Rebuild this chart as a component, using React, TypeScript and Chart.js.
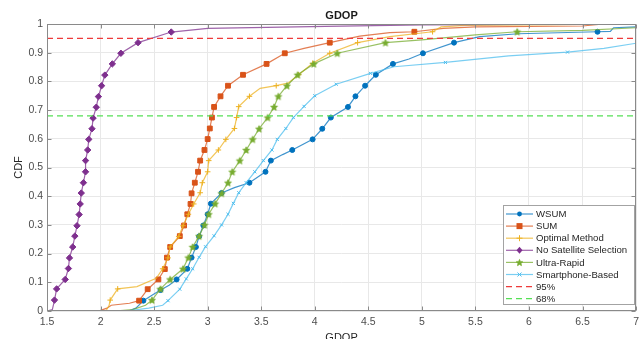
import React, { useEffect, useRef } from 'react';
import { Chart, registerables } from 'chart.js';

Chart.register(...registerables);

// ---------- data ----------
const seriesNames = ['WSUM', 'SUM', 'Optimal Method', 'No Satellite Selection', 'Ultra-Rapid', 'Smartphone-Based'];
const seriesColors = ['#0072BD', '#D95319', '#EDB120', '#7E2F8E', '#77AC30', '#4DBEEE'];
const seriesMarkers = ['circle', 'rect', 'cross', 'rectRot', 'star', 'crossRot'];
const refNames = ['95%', '68%'];
const refLevels = [0.95, 0.68];
const refColors = ['#ee3b3b', '#55e055'];
const xTicks = [1.5, 2, 2.5, 3, 3.5, 4, 4.5, 5, 5.5, 6, 6.5, 7];
const yTicks = [0, 0.1, 0.2, 0.3, 0.4, 0.5, 0.6, 0.7, 0.8, 0.9, 1];

const wsumX = [2.26, 2.33, 2.40, 2.48, 2.56, 2.64, 2.71, 2.81, 2.85, 2.89, 2.92, 2.96, 3.00, 3.03, 3.13, 3.25, 3.39, 3.54, 3.59, 3.70, 3.79, 3.98, 4.07, 4.15, 4.31, 4.38, 4.47, 4.57, 4.73, 4.88, 5.01, 5.30, 5.54, 5.90, 6.64, 6.76, 6.79, 7.00];
const wsumY = [0, 0.01, 0.036, 0.055, 0.073, 0.09, 0.11, 0.147, 0.186, 0.223, 0.26, 0.298, 0.337, 0.374, 0.411, 0.43, 0.447, 0.485, 0.524, 0.545, 0.561, 0.598, 0.635, 0.674, 0.711, 0.748, 0.785, 0.823, 0.861, 0.878, 0.898, 0.935, 0.956, 0.966, 0.973, 0.974, 0.987, 0.99];
const wsumM = [0, 0, 1, 0, 1, 0, 1, 1, 1, 1, 1, 1, 1, 1, 1, 0, 1, 1, 1, 0, 1, 1, 1, 1, 1, 1, 1, 1, 1, 0, 1, 1, 0, 0, 1, 0, 0, 0];

const sumX = [1.67, 2.00, 2.06, 2.10, 2.27, 2.36, 2.44, 2.54, 2.60, 2.62, 2.65, 2.74, 2.78, 2.81, 2.84, 2.85, 2.88, 2.91, 2.93, 2.97, 3.00, 3.02, 3.04, 3.06, 3.12, 3.19, 3.33, 3.55, 3.72, 3.90, 4.14, 4.42, 4.70, 4.93, 5.20, 5.50, 6.50, 6.70, 7.00];
const sumY = [0, 0.002, 0.01, 0.02, 0.027, 0.036, 0.076, 0.11, 0.146, 0.186, 0.223, 0.261, 0.298, 0.337, 0.373, 0.41, 0.447, 0.485, 0.524, 0.561, 0.599, 0.636, 0.674, 0.711, 0.748, 0.785, 0.823, 0.861, 0.898, 0.915, 0.935, 0.958, 0.97, 0.973, 0.985, 0.99, 0.993, 1.0, 1.0];
const sumM = [0, 0, 0, 0, 0, 1, 1, 1, 1, 1, 1, 1, 1, 1, 1, 1, 1, 1, 1, 1, 1, 1, 1, 1, 1, 1, 1, 1, 1, 0, 1, 0, 0, 1, 0, 0, 0, 0, 0];

const optX = [2.05, 2.08, 2.09, 2.16, 2.34, 2.52, 2.58, 2.63, 2.65, 2.73, 2.77, 2.82, 2.87, 2.93, 2.95, 3.00, 3.01, 3.10, 3.17, 3.25, 3.27, 3.29, 3.39, 3.49, 3.64, 3.75, 3.85, 3.98, 4.14, 4.40, 4.70, 5.10, 5.18, 5.40, 7.00];
const optY = [0, 0.02, 0.038, 0.077, 0.085, 0.114, 0.147, 0.185, 0.223, 0.26, 0.297, 0.337, 0.373, 0.412, 0.447, 0.485, 0.524, 0.561, 0.598, 0.636, 0.674, 0.712, 0.748, 0.776, 0.785, 0.794, 0.823, 0.863, 0.898, 0.935, 0.956, 0.973, 0.99, 0.995, 1.0];
const optM = [0, 0, 1, 1, 0, 0, 1, 1, 1, 1, 1, 1, 1, 1, 1, 1, 1, 1, 1, 1, 1, 1, 1, 0, 1, 0, 1, 1, 1, 1, 0, 1, 0, 0, 0];

const noSelX = [1.50, 1.55, 1.57, 1.59, 1.67, 1.70, 1.71, 1.74, 1.76, 1.78, 1.80, 1.81, 1.82, 1.84, 1.86, 1.86, 1.88, 1.89, 1.92, 1.93, 1.96, 1.98, 2.01, 2.04, 2.11, 2.19, 2.35, 2.66, 3.00, 4.10, 5.00, 7.00];
const noSelY = [0, 0.005, 0.038, 0.077, 0.11, 0.148, 0.185, 0.223, 0.261, 0.297, 0.336, 0.373, 0.411, 0.447, 0.485, 0.524, 0.561, 0.598, 0.635, 0.672, 0.71, 0.747, 0.785, 0.822, 0.861, 0.898, 0.935, 0.972, 0.985, 0.992, 0.997, 1.0];
const noSelM = [0, 0, 1, 1, 1, 1, 1, 1, 1, 1, 1, 1, 1, 1, 1, 1, 1, 1, 1, 1, 1, 1, 1, 1, 1, 1, 1, 1, 0, 0, 0, 0];

const ultraX = [2.13, 2.30, 2.42, 2.48, 2.56, 2.65, 2.77, 2.82, 2.86, 2.92, 2.97, 3.01, 3.07, 3.13, 3.19, 3.23, 3.30, 3.36, 3.42, 3.48, 3.56, 3.62, 3.66, 3.74, 3.84, 3.99, 4.21, 4.66, 5.00, 5.50, 5.89, 6.50, 7.00];
const ultraY = [0, 0.005, 0.02, 0.038, 0.077, 0.11, 0.147, 0.186, 0.223, 0.261, 0.30, 0.337, 0.374, 0.41, 0.447, 0.485, 0.524, 0.561, 0.598, 0.635, 0.674, 0.711, 0.748, 0.785, 0.823, 0.861, 0.898, 0.935, 0.945, 0.962, 0.973, 0.978, 0.987];
const ultraM = [0, 0, 0, 1, 1, 1, 1, 1, 1, 1, 1, 1, 1, 1, 1, 1, 1, 1, 1, 1, 1, 1, 1, 1, 1, 1, 1, 1, 0, 0, 1, 0, 0];

const phoneX = [2.24, 2.45, 2.58, 2.63, 2.74, 2.80, 2.86, 2.92, 2.98, 3.06, 3.13, 3.19, 3.24, 3.29, 3.36, 3.44, 3.52, 3.60, 3.65, 3.73, 3.80, 3.90, 4.00, 4.20, 4.52, 4.74, 5.22, 5.81, 6.36, 6.70, 7.00];
const phoneY = [0, 0.01, 0.02, 0.036, 0.076, 0.112, 0.147, 0.187, 0.224, 0.262, 0.30, 0.337, 0.375, 0.412, 0.447, 0.485, 0.524, 0.561, 0.598, 0.636, 0.674, 0.713, 0.75, 0.79, 0.828, 0.851, 0.866, 0.889, 0.902, 0.915, 0.933];
const phoneM = [0, 0, 0, 1, 1, 1, 1, 1, 1, 1, 1, 1, 1, 1, 1, 1, 1, 1, 1, 1, 1, 1, 1, 1, 1, 0, 1, 0, 1, 0, 0];

const seriesX = [wsumX, sumX, optX, noSelX, ultraX, phoneX];
const seriesY = [wsumY, sumY, optY, noSelY, ultraY, phoneY];
const seriesM = [wsumM, sumM, optM, noSelM, ultraM, phoneM];

// ---------- helpers ----------
const FONT = '"Liberation Sans", Arial, Helvetica, sans-serif';
const markerRadius: Record<string, number> = { circle: 2.5, rect: 3.4, cross: 2.8, rectRot: 3.2, star: 3.5, crossRot: 2.2 };

function hexToRgba(hex: string, a: number) {
  const n = parseInt(hex.slice(1), 16);
  return `rgba(${(n >> 16) & 255},${(n >> 8) & 255},${n & 255},${a})`;
}

function makeStar(color: string, R: number) {
  const c = document.createElement('canvas');
  const s = Math.ceil(R * 2 + 2);
  c.width = s; c.height = s;
  const ctx = c.getContext('2d')!;
  const cx = s / 2, cy = s / 2 + 0.4;
  const r = R * 0.45;
  ctx.beginPath();
  for (let i = 0; i < 10; i++) {
    const rad = (i % 2 === 0) ? R : r;
    const a = -Math.PI / 2 + (i * Math.PI) / 5;
    const px = cx + rad * Math.cos(a), py = cy + rad * Math.sin(a);
    if (i === 0) ctx.moveTo(px, py); else ctx.lineTo(px, py);
  }
  ctx.closePath();
  ctx.fillStyle = color; ctx.fill();
  ctx.strokeStyle = color; ctx.lineWidth = 0.8; ctx.stroke();
  return c;
}

function drawLegendMarker(ctx: CanvasRenderingContext2D, kind: string, x: number, y: number, color: string, star: HTMLCanvasElement) {
  ctx.save();
  ctx.fillStyle = color; ctx.strokeStyle = color; ctx.lineWidth = 1;
  ctx.beginPath();
  if (kind === 'circle') { ctx.arc(x, y, 2.4, 0, Math.PI * 2); ctx.fill(); }
  else if (kind === 'rect') { ctx.fillRect(x - 3, y - 3, 6, 6); }
  else if (kind === 'cross') { ctx.moveTo(x - 3, y); ctx.lineTo(x + 3, y); ctx.moveTo(x, y - 3); ctx.lineTo(x, y + 3); ctx.stroke(); }
  else if (kind === 'rectRot') { ctx.moveTo(x, y - 3.5); ctx.lineTo(x + 3, y); ctx.lineTo(x, y + 3.5); ctx.lineTo(x - 3, y); ctx.closePath(); ctx.fill(); }
  else if (kind === 'star') { ctx.drawImage(star, x - star.width / 2, y - star.height / 2); }
  else if (kind === 'crossRot') { ctx.moveTo(x - 2, y - 2); ctx.lineTo(x + 2, y + 2); ctx.moveTo(x + 2, y - 2); ctx.lineTo(x - 2, y + 2); ctx.stroke(); }
  ctx.restore();
}

export default function App() {
  const ref = useRef<HTMLCanvasElement | null>(null);

  useEffect(() => {
    if (!ref.current) return;
    const starImg = makeStar(seriesColors[4], 3.6);
    const legendStar = makeStar(seriesColors[4], 3.4);

    const datasets: any[] = seriesNames.map((name, i) => {
      const xs = seriesX[i], ys = seriesY[i], ms = seriesM[i];
      const kind = seriesMarkers[i];
      const style = kind === 'star' ? starImg : kind;
      return {
        label: name,
        data: xs.map((x, k) => ({ x, y: ys[k] })),
        borderColor: hexToRgba(seriesColors[i], 0.75),
        borderWidth: 1.2,
        pointRadius: ms.map((m) => (m ? markerRadius[kind] : 0)),
        pointStyle: ms.map(() => style),
        pointBackgroundColor: seriesColors[i],
        pointBorderColor: seriesColors[i],
        pointBorderWidth: 1,
        tension: 0,
        fill: false,
        order: -i,
        markerKind: kind,
        baseColor: seriesColors[i],
      };
    });
    refNames.forEach((name, j) => {
      datasets.push({
        label: name,
        data: [{ x: xTicks[0], y: refLevels[j] }, { x: xTicks[xTicks.length - 1], y: refLevels[j] }],
        borderColor: refColors[j],
        borderWidth: 1.2,
        borderDash: [6, 4],
        pointRadius: 0,
        fill: false,
        order: -10 - j,
        markerKind: 'none',
        baseColor: refColors[j],
      });
    });

    const framePlugin = {
      id: 'frame',
      afterDatasetsDraw(chart: any) {
        const { ctx, chartArea: a, scales } = chart;
        ctx.save();
        ctx.strokeStyle = '#8a8a8a';
        ctx.lineWidth = 1;
        const L = Math.round(a.left) + 0.5, R = Math.round(a.right) - 0.5, T = Math.round(a.top) + 0.5, B = Math.round(a.bottom) - 0.5;
        ctx.strokeRect(L, T, R - L, B - T);
        ctx.beginPath();
        xTicks.forEach((v) => {
          const px = Math.round(scales.x.getPixelForValue(v)) + 0.5;
          ctx.moveTo(px, B); ctx.lineTo(px, B - 4);
          ctx.moveTo(px, T); ctx.lineTo(px, T + 4);
        });
        yTicks.forEach((v) => {
          const py = Math.round(scales.y.getPixelForValue(v)) + 0.5;
          ctx.moveTo(L, py); ctx.lineTo(L + 4, py);
          ctx.moveTo(R, py); ctx.lineTo(R - 4, py);
        });
        ctx.stroke();
        ctx.restore();
      },
      afterDraw(chart: any) {
        const { ctx, chartArea: a } = chart;
        ctx.save();
        // title
        ctx.font = `bold 11px ${FONT}`;
        ctx.fillStyle = '#1a1a1a';
        ctx.textAlign = 'center';
        ctx.textBaseline = 'middle';
        ctx.fillText('GDOP', (a.left + a.right) / 2, 15.5);
        // legend
        const bx = 503.5, by = 205.5, bw = 131, bh = 99;
        ctx.fillStyle = '#ffffff';
        ctx.fillRect(bx, by, bw, bh);
        ctx.strokeStyle = '#a3a3a3';
        ctx.lineWidth = 1;
        ctx.strokeRect(bx, by, bw, bh);
        ctx.font = `9.6px ${FONT}`;
        ctx.textAlign = 'left';
        ctx.textBaseline = 'middle';
        chart.data.datasets.forEach((ds: any, i: number) => {
          const y = 214 + i * 12.1;
          ctx.save();
          ctx.strokeStyle = ds.borderColor;
          ctx.lineWidth = 1.2;
          ctx.setLineDash(ds.borderDash || []);
          ctx.beginPath();
          ctx.moveTo(506, y); ctx.lineTo(533, y);
          ctx.stroke();
          ctx.restore();
          if (ds.markerKind !== 'none') drawLegendMarker(ctx, ds.markerKind, 519.5, y, ds.baseColor, legendStar);
          ctx.fillStyle = '#262626';
          ctx.fillText(ds.label, 536, y + 0.5);
        });
        ctx.restore();
      },
    };

    const chart = new Chart(ref.current, {
      type: 'line',
      data: { datasets },
      options: {
        animation: false,
        responsive: false,
        maintainAspectRatio: false,
        layout: { padding: { top: 24, right: 7, left: 0, bottom: 0 } },
        plugins: { legend: { display: false }, title: { display: false }, tooltip: { enabled: false } },
        scales: {
          x: {
            type: 'linear',
            min: 1.5,
            max: 7,
            afterBuildTicks: (s: any) => { s.ticks = xTicks.map((v) => ({ value: v })); },
            afterFit: (s: any) => { s.height = 28; },
            ticks: {
              callback: (v: any) => String(Math.round(Number(v) * 10) / 10),
              font: { family: FONT, size: 10.5 },
              color: '#4d4d4d',
              padding: 5,
              maxRotation: 0,
              autoSkip: false,
            },
            grid: { color: '#e8e8e8', drawTicks: false },
            border: { display: false },
            title: { display: true, text: 'GDOP', font: { family: FONT, size: 11 }, color: '#262626', padding: { top: 0, bottom: -5.5 } },
          },
          y: {
            type: 'linear',
            min: 0,
            max: 1,
            afterBuildTicks: (s: any) => { s.ticks = yTicks.map((v) => ({ value: v })); },
            afterFit: (s: any) => { s.width = 47; },
            ticks: {
              callback: (v: any) => String(Math.round(Number(v) * 10) / 10),
              font: { family: FONT, size: 10.5 },
              color: '#4d4d4d',
              padding: 4,
              autoSkip: false,
            },
            grid: { color: '#e8e8e8', drawTicks: false },
            border: { display: false },
            title: { display: true, text: 'CDF', font: { family: FONT, size: 11 }, color: '#262626', padding: { top: 12, bottom: 0 } },
          },
        },
      } as any,
      plugins: [framePlugin],
    });
    return () => chart.destroy();
  }, []);

  return (
    <div style={{ position: 'absolute', left: 0, top: 0, width: 644, height: 339, background: '#fff' }}>
      <canvas ref={ref} width={644} height={339} style={{ display: 'block' }} />
    </div>
  );
}
